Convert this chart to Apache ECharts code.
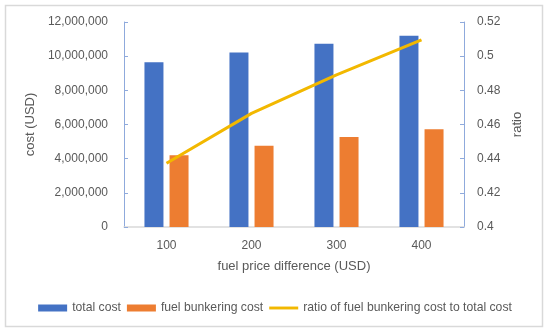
<!DOCTYPE html>
<html><head><meta charset="utf-8">
<script src="https://cdn.jsdelivr.net/npm/echarts@6/dist/echarts.min.js"></script>
<style>html,body{margin:0;padding:0;background:#fff}#c{width:550px;height:334px}</style>
</head><body><div id="c"></div>
<script>
const categories = ['100', '200', '300', '400'];
const totalCost = [9640000, 10220000, 10730000, 11200000];
const bunkeringCost = [4200000, 4760000, 5270000, 5720000];
const ratio = [0.4373, 0.4665, 0.4890, 0.5095];
const seriesNames = ['total cost', 'fuel bunkering cost', 'ratio of fuel bunkering cost to total cost'];

const font = 'Liberation Sans';
const grey = '#595959';
const chart = echarts.init(document.getElementById('c'));
chart.setOption({
  animation: false,
  textStyle: { fontFamily: font },
  graphic: [{ type: 'rect', shape: { x: 5.5, y: 5.5, width: 537, height: 321 }, style: { fill: 'none', stroke: '#d9d9d9', lineWidth: 1.5 }, silent: true }],
  grid: { left: 124, right: 86, top: 22, bottom: 107 },
  legend: {
    top: 297, left: 'center',
    itemWidth: 29, itemHeight: 7, itemGap: 6,
    textStyle: { color: grey, fontSize: 12.2, fontFamily: font },
    data: [
      { name: seriesNames[0], icon: 'rect' },
      { name: seriesNames[1], icon: 'rect' },
      { name: seriesNames[2], icon: 'path://M0,0 L30,0 L30,3 L0,3 Z' }
    ]
  },
  xAxis: {
    type: 'category', data: categories,
    name: 'fuel price difference (USD)', nameLocation: 'middle', nameGap: 33,
    nameTextStyle: { color: grey, fontSize: 13, fontFamily: font },
    axisLine: { lineStyle: { color: '#d9d9d9', width: 1.5 } },
    axisTick: { show: false },
    axisLabel: { color: grey, fontSize: 12, margin: 13 }
  },
  yAxis: [{
    type: 'value', min: 0, max: 12000000, interval: 2000000,
    name: 'cost (USD)', nameLocation: 'middle', nameGap: 73,
    nameTextStyle: { color: grey, fontSize: 13, fontFamily: font },
    axisLine: { show: true, lineStyle: { color: '#8faadc' } },
    axisTick: { show: true, inside: true, length: 4, lineStyle: { color: '#8faadc' } },
    splitLine: { show: false },
    axisLabel: { color: grey, fontSize: 12, margin: 16, formatter: v => v.toLocaleString('en-US') }
  }, {
    type: 'value', min: 0.4, max: 0.52, interval: 0.02,
    name: 'ratio', nameLocation: 'middle', nameGap: 46,
    nameTextStyle: { color: grey, fontSize: 13, fontFamily: font },
    axisLine: { show: true, lineStyle: { color: '#8faadc' } },
    axisTick: { show: true, inside: true, length: 4, lineStyle: { color: '#8faadc' } },
    splitLine: { show: false },
    axisLabel: { color: grey, fontSize: 12, margin: 13, formatter: v => String(parseFloat(v.toFixed(2))) }
  }],
  series: [
    { name: seriesNames[0], type: 'bar', data: totalCost, barWidth: 19, barGap: '32%', itemStyle: { color: '#4472C4' } },
    { name: seriesNames[1], type: 'bar', data: bunkeringCost, barWidth: 19, barGap: '32%', itemStyle: { color: '#ED7D31' } },
    { name: seriesNames[2], type: 'line', yAxisIndex: 1, data: ratio, symbol: 'none', lineStyle: { color: '#F2B800', width: 3 }, itemStyle: { color: '#F2B800' } }
  ]
});
</script></body></html>
